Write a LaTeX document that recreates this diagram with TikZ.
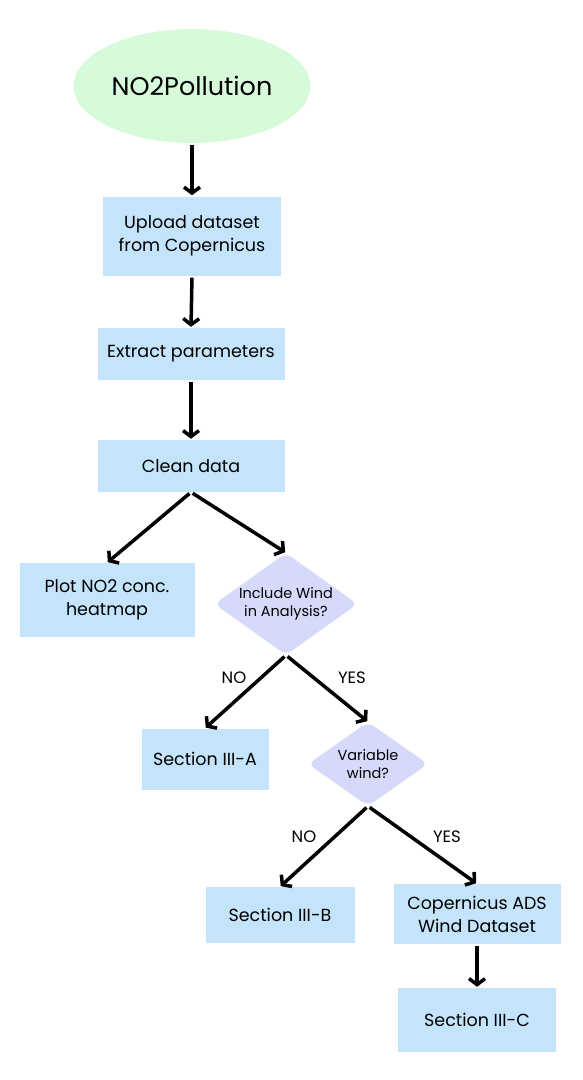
\documentclass[tikz,border=0pt]{standalone}
\usepackage{fontspec}
\setmainfont{Poppins}
\usetikzlibrary{arrows.meta,shapes.geometric}
\definecolor{boxblue}{RGB}{196,228,252}
\definecolor{decpurple}{RGB}{214,218,250}
\definecolor{startgreen}{RGB}{214,250,218}
\begin{document}
\begin{tikzpicture}[x=1pt,y=-1pt,
    box/.style={fill=boxblue,inner sep=0pt,align=center,font=\fontsize{17.5}{23}\selectfont},
    dec/.style={diamond,fill=decpurple,rounded corners=7pt,inner sep=0pt,shape aspect=1.4,align=center,font=\fontsize{14.5}{18.5}\selectfont},
    lbl/.style={font=\fontsize{16.5}{20}\selectfont},
    arr/.style={line width=3.5pt,-{Straight Barb[length=6pt,width=16pt]},shorten <=2pt,shorten >=1pt}]
  \useasboundingbox (0,0) rectangle (583,1080);
  \node[ellipse,fill=startgreen,minimum width=232pt,minimum height=114pt,font=\fontsize{25.5}{30}\selectfont](start)at(192,86){NO2Pollution};
  \node[box,minimum width=178pt,minimum height=79pt](upload)at(192,236){Upload dataset\\from Copernicus};
  \node[box,minimum width=187pt,minimum height=52pt](extract)at(191,354){Extract parameters};
  \node[box,minimum width=187pt,minimum height=52pt](clean)at(191,466){Clean data};
  \node[box,minimum width=175pt,minimum height=74pt](plot)at(107,600){Plot NO2 conc.\\heatmap};
  \node[dec,minimum width=143pt,minimum height=102pt](wind)at(286,604){Include Wind\\in Analysis?};
  \node[box,minimum width=127pt,minimum height=61pt](secA)at(205,759){Section III-A};
  \node[dec,minimum width=120pt,minimum height=84pt](var)at(368,764){Variable\\wind?};
  \node[box,minimum width=149pt,minimum height=56pt](secB)at(280,915){Section III-B};
  \node[box,minimum width=167pt,minimum height=60pt](ads)at(477,914){Copernicus ADS\\Wind Dataset};
  \node[box,minimum width=158pt,minimum height=64pt](secC)at(477,1020){Section III-C};
  \node[lbl](no1)at(234,678){NO};
  \node[lbl](yes1)at(352,678){YES};
  \node[lbl](no2)at(304,837){NO};
  \node[lbl](yes2)at(447,837){YES};
  \draw[arr](start.south)--(upload.north);
  \draw[arr](upload.south)--(extract.north);
  \draw[arr](extract.south)--(clean.north);
  \draw[arr](clean.south)--(plot.north);
  \draw[arr](clean.south)--(wind.north);
  \draw[arr](wind.south)--(secA.north);
  \draw[arr](wind.south)--(var.north);
  \draw[arr](var.south)--(secB.north);
  \draw[arr](var.south)--(ads.north);
  \draw[arr](ads.south)--(secC.north);
\end{tikzpicture}
\end{document}
